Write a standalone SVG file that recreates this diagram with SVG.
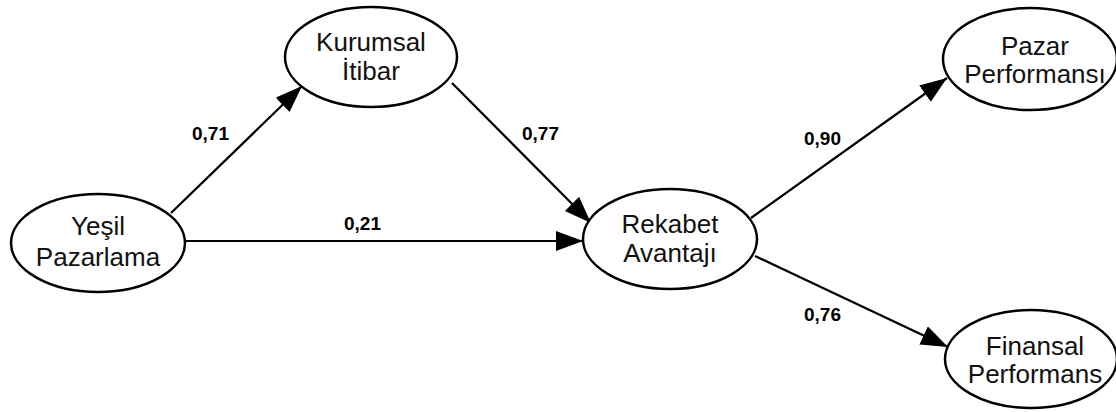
<svg xmlns="http://www.w3.org/2000/svg" width="1116" height="412" viewBox="0 0 1116 412">
  <style>
    .node ellipse { fill: #ffffff; stroke: #000000; stroke-width: 2.5; }
    .node text { font-family: "Liberation Sans", Arial, sans-serif; font-size: 26px; fill: #111111; text-anchor: middle; }
    .edge { stroke: #000000; stroke-width: 2.2; fill: none; marker-end: url(#arrow); }
    .weight { font-family: "Liberation Sans", Arial, sans-serif; font-size: 19px; font-weight: bold; fill: #000000; }
  </style>
  <defs>
    <marker id="arrow" markerUnits="userSpaceOnUse" markerWidth="30" markerHeight="22" refX="27" refY="10" orient="auto">
      <path d="M0,0 L27,10 L0,20 Z" fill="#000000"/>
    </marker>
  </defs>
  <rect width="1116" height="412" fill="#ffffff"/>

  <g id="connectors">
    <line class="edge" x1="171" y1="213" x2="302" y2="86"/>
    <line class="edge" x1="452" y1="83" x2="591" y2="223"/>
    <line class="edge" x1="185" y1="241" x2="583" y2="241"/>
    <line class="edge" x1="751" y1="218" x2="947" y2="78"/>
    <line class="edge" x1="755" y1="256" x2="948" y2="347"/>
    <text class="weight" x="192" y="140">0,71</text>
    <text class="weight" x="522" y="140">0,77</text>
    <text class="weight" x="344" y="230">0,21</text>
    <text class="weight" x="804" y="145">0,90</text>
    <text class="weight" x="804" y="321">0,76</text>
  </g>

  <g id="yesil-pazarlama" class="node">
    <ellipse cx="98" cy="243" rx="87" ry="49"/>
    <text x="98" y="235">Yeşil</text>
    <text x="98" y="266">Pazarlama</text>
  </g>

  <g id="kurumsal-itibar" class="node">
    <ellipse cx="371" cy="57" rx="86" ry="50"/>
    <text x="371" y="51">Kurumsal</text>
    <text x="371" y="80">İtibar</text>
  </g>

  <g id="rekabet-avantaji" class="node">
    <ellipse cx="670" cy="239" rx="87" ry="50"/>
    <text x="670" y="233">Rekabet</text>
    <text x="670" y="262">Avantajı</text>
  </g>

  <g id="pazar-performansi" class="node">
    <ellipse cx="1030" cy="59" rx="87" ry="51"/>
    <text x="1035" y="55">Pazar</text>
    <text x="1035" y="83">Performansı</text>
  </g>

  <g id="finansal-performans" class="node">
    <ellipse cx="1031" cy="359" rx="86" ry="49"/>
    <text x="1035" y="355">Finansal</text>
    <text x="1035" y="383">Performans</text>
  </g>
</svg>
